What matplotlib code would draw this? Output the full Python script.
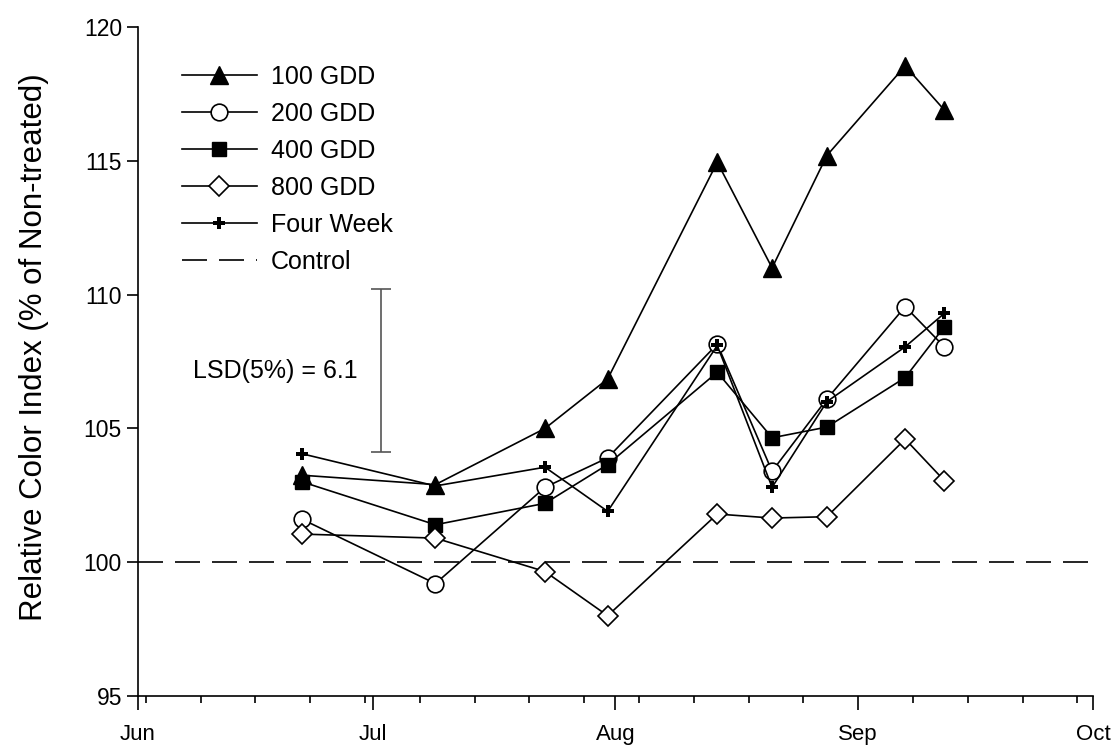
import matplotlib
matplotlib.use("Agg")
import matplotlib.pyplot as plt
import matplotlib.dates as mdates
import numpy as np
import pandas as pd

# sampling dates and relative color index (% of non-treated)
dates = pd.to_datetime(["2008-06-22", "2008-07-09", "2008-07-23", "2008-07-31",
                        "2008-08-14", "2008-08-21", "2008-08-28", "2008-09-07",
                        "2008-09-12"])
gdd100 = [103.25, 102.9, 105.0, 106.85, 114.95, 111.0, 115.2, 118.55, 116.9]
gdd200 = [101.6, 99.2, 102.8, 103.9, 108.15, 103.4, 106.1, 109.55, 108.05]
gdd400 = [103.0, 101.4, 102.2, 103.65, 107.1, 104.65, 105.05, 106.9, 108.8]
gdd800 = [101.05, 100.9, 99.65, 98.0, 101.8, 101.65, 101.7, 104.6, 103.05]
four_week = [104.05, 102.85, 103.55, 101.9, 108.1, 102.8, 106.0, 108.05, 109.3]
control = 100
lsd = 6.1
lsd_bottom = 104.1
lsd_date = "2008-07-02"

plt.rcParams['font.family'] = ['Liberation Sans', 'DejaVu Sans']

fig = plt.figure(figsize=(11.12, 7.52), dpi=100)
ax = fig.add_axes([0.124, 0.0745, 0.859, 0.8895])

lw = 1.2
ax.plot(dates, gdd100, '-', color='k', lw=lw, marker='^', ms=13,
        mfc='k', mec='k', label='100 GDD', zorder=5)
ax.plot(dates, gdd200, '-', color='k', lw=lw, marker='o', ms=12,
        mfc='white', mec='k', mew=1.2, label='200 GDD', zorder=4)
ax.plot(dates, gdd400, '-', color='k', lw=lw, marker='s', ms=10.5,
        mfc='k', mec='k', label='400 GDD', zorder=4)
ax.plot(dates, gdd800, '-', color='k', lw=lw, marker='D', ms=10,
        mfc='white', mec='k', mew=1.2, label='800 GDD', zorder=4)
ax.plot(dates, four_week, '-', color='k', lw=lw, marker='P', ms=8,
        mfc='k', mec='k', mew=0, label='Four Week', zorder=6)
ax.axhline(control, color='k', lw=1.2, dashes=(15, 7.2), label='Control')

# LSD bar
ld = pd.Timestamp(lsd_date)
ax.errorbar([ld], [lsd_bottom + lsd / 2], yerr=[[lsd / 2], [lsd / 2]],
            color='#555555', lw=1.2, capsize=7, capthick=1.2)
ax.text(pd.Timestamp("2008-06-08"), lsd_bottom + lsd / 2, f"LSD(5%) = {lsd}",
        fontsize=18, va='center', ha='left')

ax.set_xlim(pd.Timestamp("2008-06-01"), pd.Timestamp("2008-10-01"))
ax.set_ylim(95, 120)
ax.set_yticks(np.arange(95, 121, 5))
ax.xaxis.set_major_locator(mdates.MonthLocator())
ax.xaxis.set_major_formatter(mdates.DateFormatter('%b'))
minor = pd.date_range("2008-06-02", "2008-09-30", freq="7D")
ax.set_xticks(minor, minor=True)

for s in ['top', 'right']:
    ax.spines[s].set_visible(False)
for s in ['left', 'bottom']:
    ax.spines[s].set_linewidth(1.2)
ax.tick_params(axis='both', which='major', labelsize=16.5, length=8, width=1.2,
               direction='out')
ax.tick_params(axis='x', which='minor', length=5, width=1.2, direction='out')
ax.tick_params(axis='x', which='major', length=10, pad=10, labelsize=16)
ax.set_ylabel("Relative Color Index (% of Non-treated)", fontsize=22.5)
ax.yaxis.set_label_coords(-0.093, 0.521)

leg = ax.legend(loc='upper left', bbox_to_anchor=(0.046, 0.944), frameon=False,
                fontsize=18, handlelength=3.0, handletextpad=0.55,
                labelspacing=0.52, borderpad=0, borderaxespad=0)

fig.savefig("out.png", dpi=100)
